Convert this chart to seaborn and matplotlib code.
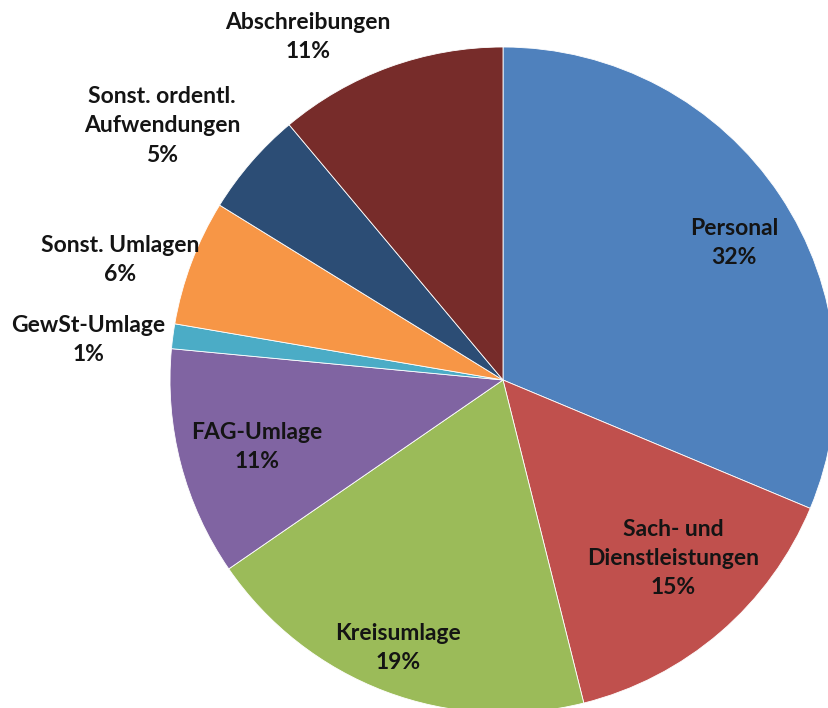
import numpy as np
import seaborn as sns
import matplotlib.pyplot as plt

sns.set_theme(style="white")
plt.rcParams['font.family'] = ['Lato', 'DejaVu Sans']

# Expense shares (clockwise from 12 o'clock)
categories = ["Personal", "Sach- und\nDienstleistungen", "Kreisumlage", "FAG-Umlage",
              "GewSt-Umlage", "Sonst. Umlagen", "Sonst. ordentl.\nAufwendungen", "Abschreibungen"]
shares = [31.3, 14.8, 19.3, 11.1, 1.2, 6.1, 5.1, 11.1]
pct_labels = ["32%", "15%", "19%", "11%", "1%", "6%", "5%", "11%"]
colors = ["#4F81BD", "#C0504D", "#9BBB59", "#8064A2",
          "#4BACC6", "#F79646", "#2C4D75", "#772C2A"]

# label centres in pie-radius units (layout only)
label_xy = [(0.694, 0.411), (0.511, -0.537), (-0.315, -0.805), (-0.739, -0.201),
            (-1.246, 0.120), (-1.150, 0.360), (-1.024, 0.763), (-0.586, 1.030)]

# pie centre sits at pixel (503, 380) with radius 333 px in an 829x708 figure
cx, cy, R = 503, 380, 333
W, H = 829, 708

fig = plt.figure(figsize=(W / 100, H / 100), dpi=100)
ax = fig.add_axes([0, 0, 1, 1])
ax.pie(shares, colors=colors, startangle=90, counterclock=False, radius=1,
       wedgeprops=dict(edgecolor="white", linewidth=0.6))

for name, pct, (x, y) in zip(categories, pct_labels, label_xy):
    ax.text(x, y, f"{name}\n{pct}", ha="center", va="center", fontsize=16.5,
            fontweight="bold", color="#141414", linespacing=1.48)

ax.set_xlim(-cx / R, (W - cx) / R)
ax.set_ylim(-(H - cy) / R, cy / R)
ax.set_aspect("auto")
ax.axis("off")

fig.savefig("out.png", dpi=100, facecolor="white")
